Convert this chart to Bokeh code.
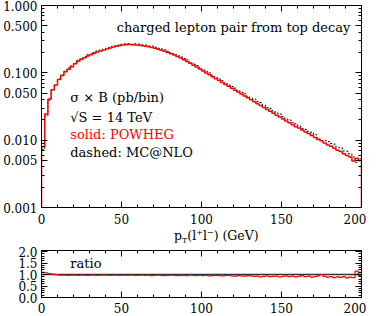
from bokeh.plotting import figure
from bokeh.models import FixedTicker, PrintfTickFormatter, LinearAxis, LogAxis, Label, CustomJSTickFormatter, Div
from bokeh.layouts import column
from bokeh.embed import file_html
from bokeh.resources import INLINE

# ---- data (2 GeV bins, 0..200 GeV) ----
bin_edges = list(range(0, 202, 2))
powheg = [0.0080, 0.0245, 0.0407, 0.0562, 0.0661, 0.0794, 0.0912, 0.1035, 0.1135, 0.1230,
          0.1365, 0.1480, 0.1585, 0.1680, 0.1780, 0.1860, 0.1950, 0.2040, 0.2110, 0.2190,
          0.2265, 0.2340, 0.2415, 0.2480, 0.2540, 0.2590, 0.2620, 0.2624, 0.2610, 0.2594,
          0.2564, 0.2529, 0.2483, 0.2432, 0.2377, 0.2312, 0.2244, 0.2168, 0.2089, 0.2009,
          0.1923, 0.1837, 0.1750, 0.1660, 0.1570, 0.1479, 0.1387, 0.1297, 0.1216, 0.1138,
          0.1067, 0.0998, 0.0935, 0.0875, 0.0818, 0.0767, 0.0718, 0.0673, 0.0630, 0.0590,
          0.0552, 0.0518, 0.0484, 0.0453, 0.0425, 0.0397, 0.0372, 0.0348, 0.0327, 0.0305,
          0.0286, 0.0268, 0.0251, 0.0235, 0.0220, 0.0206, 0.0193, 0.0182, 0.0170, 0.0158,
          0.0151, 0.0141, 0.0132, 0.0126, 0.0117, 0.0110, 0.0102, 0.0098, 0.0091, 0.0085,
          0.0081, 0.0076, 0.0071, 0.0068, 0.0063, 0.0059, 0.0056, 0.0049, 0.0054, 0.0050]
ratio = [1.10, 1.08, 1.04, 1.02, 1.00,
         0.98, 0.97, 0.98, 0.96, 0.97, 0.98, 0.96, 0.97, 0.97, 0.96,
         0.98, 0.97, 0.96, 0.97, 0.97, 0.98, 0.96, 0.97, 0.97, 0.96,
         0.97, 0.96, 0.97, 0.98, 0.96, 0.96, 0.97, 0.96, 0.97, 0.95, 0.96, 0.97, 0.96,
         0.95, 0.96, 0.97, 0.96, 0.95, 0.96, 0.96, 0.95, 0.97, 0.96, 0.95, 0.96,
         0.95, 0.96, 0.94, 0.95, 0.96, 0.95, 0.94, 0.95, 0.96, 0.94, 0.93, 0.95, 0.94,
         0.93, 0.95, 0.94, 0.92, 0.93, 0.90, 0.92, 0.94, 0.91, 0.92, 0.93, 0.90,
         0.92, 0.94, 0.91, 0.93, 0.90, 0.92, 0.95, 0.91, 0.93, 0.89, 0.91, 0.94, 1.00,
         0.92, 0.89, 0.91, 0.87, 0.90, 0.88, 0.91, 0.86, 0.89, 0.87, 1.15, 0.95]
mcatnlo = [p / r for p, r in zip(powheg, ratio)]
unity = [1.0] * len(powheg)

x_major = [0, 50, 100, 150, 200]
x_minor = list(range(0, 201, 10))
y_major = [0.001, 0.005, 0.01, 0.05, 0.1, 0.5, 1.0]
y_minor = [m * d for d in (0.001, 0.01, 0.1) for m in range(1, 10)] + [1.0]
r_major = [0.0, 0.5, 1.0, 1.5, 2.0]
r_minor = [i / 10 for i in range(0, 21)]

FONT = "DejaVu Serif"
FS = "12px"
TFS = "13px"


def stairs(vals, floor):
    xs, ys = [bin_edges[0]], [floor]
    for i, v in enumerate(vals):
        xs += [bin_edges[i], bin_edges[i + 1]]
        ys += [v, v]
    xs.append(bin_edges[-1])
    ys.append(floor)
    return xs, ys


def style_axis(ax, ticker, fmt=None, labels=True):
    ax.ticker = ticker
    ax.major_tick_in = 6
    ax.major_tick_out = 0
    ax.minor_tick_in = 3
    ax.minor_tick_out = 0
    ax.axis_line_color = "black"
    ax.major_tick_line_color = "black"
    ax.minor_tick_line_color = "black"
    ax.major_label_text_font = FONT
    ax.major_label_text_font_size = FS
    ax.major_label_text_color = "black"
    if labels:
        if fmt is not None:
            ax.formatter = fmt
    else:
        ax.formatter = CustomJSTickFormatter(code="return ''")
        ax.major_label_standoff = 0


def base_fig(h, ymin, ymax, log, mb_top, mb_bottom):
    f = figure(width=366, height=h, x_range=(0, 200), y_range=(ymin, ymax),
               y_axis_type="log" if log else "linear",
               output_backend="svg", toolbar_location=None,
               min_border_left=32, min_border_right=5,
               min_border_top=mb_top, min_border_bottom=mb_bottom)
    f.xgrid.visible = False
    f.ygrid.visible = False
    f.outline_line_color = "black"
    f.background_fill_color = "white"
    f.border_fill_color = "white"
    return f


# ---- main panel ----
p = base_fig(228, 0.001, 1.0, True, 5, 21)
xt = FixedTicker(ticks=x_major, minor_ticks=x_minor)
yt = FixedTicker(ticks=y_major, minor_ticks=y_minor)
style_axis(p.xaxis[0], xt, PrintfTickFormatter(format="%d"))
p.xaxis[0].major_label_standoff = 6
style_axis(p.yaxis[0], yt, PrintfTickFormatter(format="%.3f"))
p.yaxis[0].major_label_standoff = 4
top_ax = LinearAxis()
style_axis(top_ax, xt, labels=False)
p.add_layout(top_ax, "above")
right_ax = LogAxis()
style_axis(right_ax, yt, labels=False)
p.add_layout(right_ax, "right")

bx, by = stairs(mcatnlo, 1e-6)
p.line(bx, by, line_color="black", line_width=1, line_dash="2 2")
rx, ry = stairs(powheg, 1e-6)
p.line(rx, ry, line_color="#ff0000", line_width=1.5)

p.add_layout(Label(x=193, y=0.47, text="charged lepton pair from top decay",
                   text_align="right", text_baseline="middle",
                   text_font=FONT, text_font_size=TFS, text_color="black"))
for txt, yv, col in [("σ × B (pb/bin)", 0.043, "black"),
                     ("√S = 14 TeV", 0.022, "black"),
                     ("solid: POWHEG", 0.012, "#ff0000"),
                     ("dashed: MC@NLO", 0.0065, "black")]:
    p.add_layout(Label(x=18, y=yv, text=txt, text_align="left", text_baseline="middle",
                       text_font=FONT, text_font_size=TFS, text_color=col))

# ---- x-axis title (with subscript / superscripts) ----
title = Div(
    text=('<div style="font-family:\'DejaVu Serif\';font-size:12.5px;line-height:13px;'
          'padding-left:174px;padding-top:0px;color:black;white-space:nowrap;">'
          'p<span style="font-size:8px;position:relative;top:3px;">T</span>(l'
          '<span style="font-size:8px;position:relative;top:-5px;">+</span>l'
          '<span style="font-size:8px;position:relative;top:-5px;">−</span>) (GeV)</div>'),
    width=366, height=14, margin=(0, 0, 0, 0))

# ---- ratio panel ----
r = base_fig(74, 0.0, 2.05, False, 8, 19)
rt = FixedTicker(ticks=r_major, minor_ticks=r_minor)
style_axis(r.xaxis[0], xt, PrintfTickFormatter(format="%d"))
r.xaxis[0].major_label_standoff = 5
style_axis(r.yaxis[0], rt, PrintfTickFormatter(format="%.1f"))
r.yaxis[0].major_label_standoff = 4
top_ax2 = LinearAxis()
style_axis(top_ax2, xt, labels=False)
r.add_layout(top_ax2, "above")
right_ax2 = LinearAxis()
style_axis(right_ax2, rt, labels=False)
r.add_layout(right_ax2, "right")

ux, uy = stairs(unity, 1.0)
r.line(ux, uy, line_color="#333333", line_width=1.5)
qx, qy = stairs(ratio, 0.0)
r.line(qx, qy, line_color="#ff0000", line_width=1.2)
r.add_layout(Label(x=18, y=1.5, text="ratio", text_align="left", text_baseline="middle",
                   text_font=FONT, text_font_size=TFS, text_color="black"))

layout = column(p, title, r, spacing=0)
open("out.html", "w").write(file_html(layout, INLINE))
